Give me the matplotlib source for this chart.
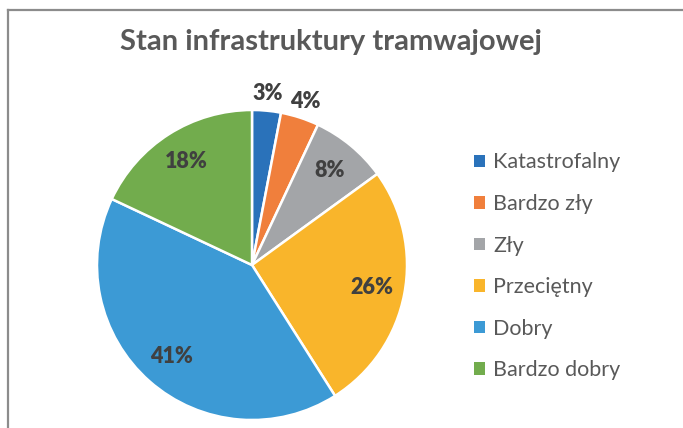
import matplotlib
matplotlib.use("Agg")
import matplotlib.pyplot as plt
from matplotlib.lines import Line2D
from matplotlib.patches import Patch
import math

title = "Stan infrastruktury tramwajowej"
categories = ["Katastrofalny", "Bardzo zły", "Zły", "Przeciętny", "Dobry", "Bardzo dobry"]
values = [3, 4, 8, 26, 41, 18]
colors = ["#2A72BA", "#F07F3C", "#A3A5A8", "#F9B52B", "#3C9AD5", "#72AC4D"]
outside = [True, True, False, False, False, False]

plt.rcParams['font.family'] = ['Lato', 'DejaVu Sans']

W, H = 683, 428
fig = plt.figure(figsize=(W / 100, H / 100), dpi=100)
fig.patch.set_facecolor("white")

# frame
fig.add_artist(Line2D([8 / W, 8 / W], [0, 1 - 9.5 / H], transform=fig.transFigure,
                      color="#8C8C8C", lw=1.6))
fig.add_artist(Line2D([8 / W, 1], [1 - 9.5 / H, 1 - 9.5 / H], transform=fig.transFigure,
                      color="#8C8C8C", lw=1.6))

cx, cy, r = 252, 265, 155
ax = fig.add_axes([(cx - r) / W, (H - cy - r) / H, 2 * r / W, 2 * r / H])
wedges, _ = ax.pie(values, colors=colors, startangle=90, counterclock=False,
                   radius=1.0, wedgeprops=dict(edgecolor="white", linewidth=1.8))
ax.set_xlim(-1, 1)
ax.set_ylim(-1, 1)
ax.set_aspect("equal")
ax.axis("off")

total = sum(values)
cum = 0
for v, out in zip(values, outside):
    mid = 90 - (cum + v / 2) / total * 360
    cum += v
    rr = 1.11 if out else 0.79
    x = rr * math.cos(math.radians(mid))
    y = rr * math.sin(math.radians(mid))
    ax.text(x, y, f"{v}%", ha="center", va="center", fontsize=15.5,
            fontweight="heavy", color="#404040", clip_on=False)

fig.text(331 / W, 1 - 42 / H, title, ha="center", va="center", fontsize=21,
         fontweight="bold", color="#595959")

handles = [Patch(facecolor=c, edgecolor="none") for c in colors]
leg = fig.legend(handles, categories, loc="upper left",
                 bbox_to_anchor=(474 / W, 1 - 152.5 / H), frameon=False,
                 borderpad=0, borderaxespad=0,
                 fontsize=15.5, labelcolor="#595959", handlelength=0.5,
                 handleheight=0.5, handletextpad=0.4, labelspacing=1.0)

fig.savefig("out.png", dpi=100, facecolor="white")
